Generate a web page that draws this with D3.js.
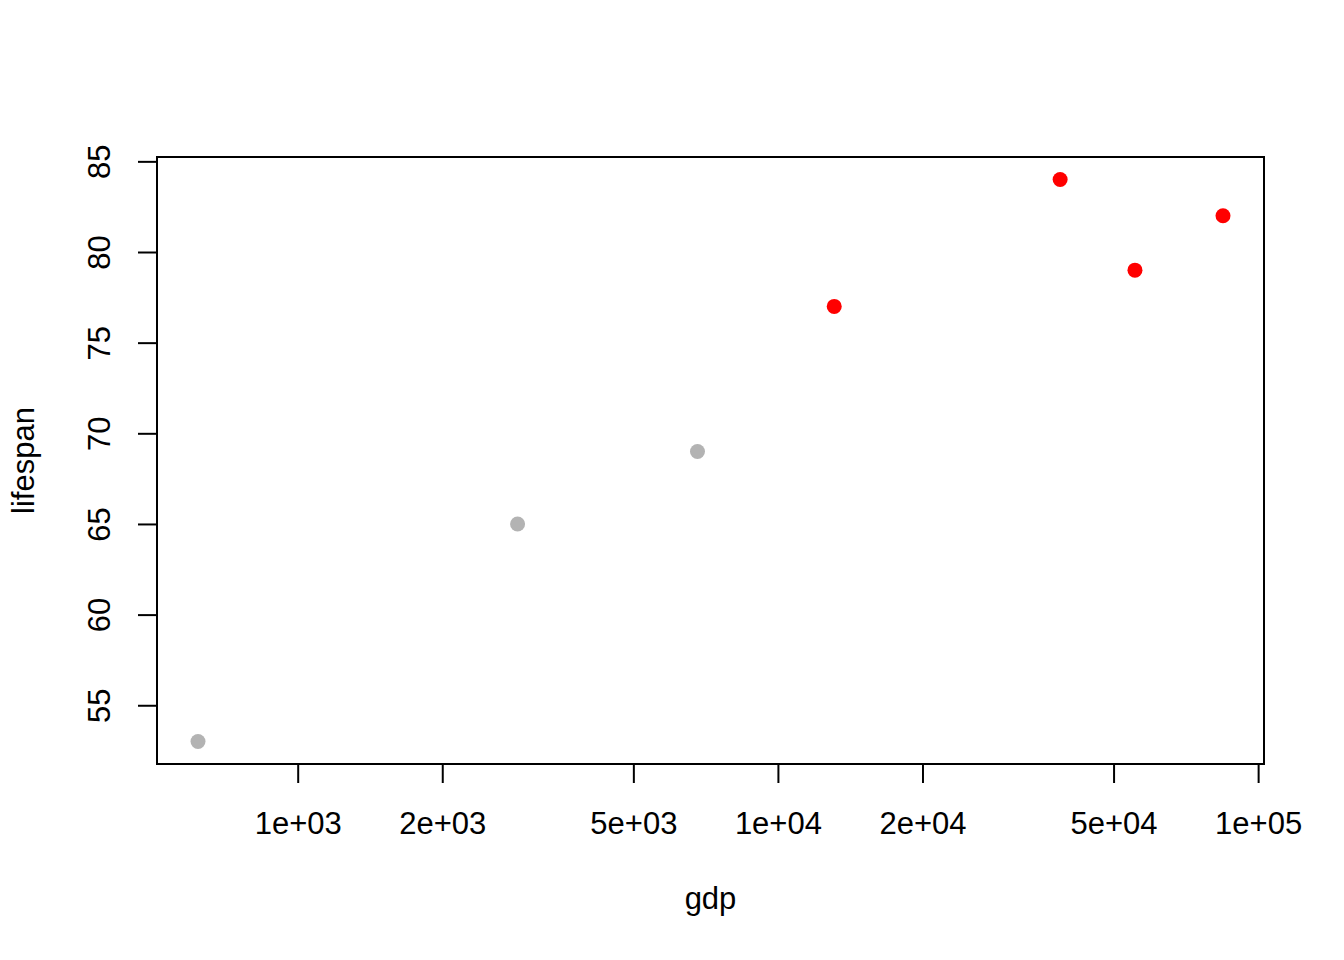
<!DOCTYPE html>
<html>
<head>
<meta charset="utf-8">
<script src="https://d3js.org/d3.v7.min.js"></script>
<style>
  html, body { margin: 0; padding: 0; background: #fff; }
  svg { display: block; font-family: "Liberation Sans", Arial, Helvetica, sans-serif; }
</style>
</head>
<body>
<svg id="chart"></svg>
<script>
// data
const gdp      = [620, 2870, 6800, 13100, 38700, 55400, 84500];
const lifespan = [53, 65, 69, 77, 84, 79, 82];
const group    = ["low", "low", "low", "high", "high", "high", "high"];
const xTicks   = [1e3, 2e3, 5e3, 1e4, 2e4, 5e4, 1e5];
const xTickLabels = ["1e+03", "2e+03", "5e+03", "1e+04", "2e+04", "5e+04", "1e+05"];
const yTicks   = [55, 60, 65, 70, 75, 80, 85];

const width = 1344, height = 960;
const plot = { left: 157, right: 1264, top: 157, bottom: 764 };
const tickLen = 19;
const fontSize = 31;

const svg = d3.select("#chart")
    .attr("width", width)
    .attr("height", height);

// R style 4% range extension on both axes
const lx = d3.extent(gdp, d => Math.log10(d));
const padX = (lx[1] - lx[0]) * 0.04;
const x = d3.scaleLog()
    .domain([Math.pow(10, lx[0] - padX), Math.pow(10, lx[1] + padX)])
    .range([plot.left, plot.right]);

const ly = d3.extent(lifespan);
const padY = (ly[1] - ly[0]) * 0.04;
const y = d3.scaleLinear()
    .domain([ly[0] - padY, ly[1] + padY])
    .range([plot.bottom, plot.top]);

// points
svg.append("g")
    .selectAll("circle")
    .data(gdp.map((g, i) => ({ gdp: g, life: lifespan[i], group: group[i] })))
    .join("circle")
    .attr("cx", d => x(d.gdp))
    .attr("cy", d => y(d.life))
    .attr("r", 7.5)
    .attr("fill", d => d.group === "high" ? "#ff0000" : "#b3b3b3");

// box
svg.append("rect")
    .attr("x", plot.left)
    .attr("y", plot.top)
    .attr("width", plot.right - plot.left)
    .attr("height", plot.bottom - plot.top)
    .attr("fill", "none")
    .attr("stroke", "#000")
    .attr("stroke-width", 2);

// x axis
const xAxis = d3.axisBottom(x)
    .tickValues(xTicks)
    .tickFormat((d, i) => xTickLabels[i])
    .tickSizeInner(tickLen)
    .tickSizeOuter(0);

const gx = svg.append("g")
    .attr("transform", `translate(0,${plot.bottom})`)
    .call(xAxis);
gx.select(".domain")
    .attr("d", `M${x(xTicks[0])},0H${x(xTicks[xTicks.length - 1])}`)
    .attr("stroke-width", 2);
gx.selectAll(".tick line").attr("stroke-width", 2);
gx.selectAll(".tick text")
    .attr("font-size", fontSize)
    .attr("font-family", null)
    .attr("dy", null)
    .attr("y", 70)
    .attr("fill", "#000");

// y axis
const yAxis = d3.axisLeft(y)
    .tickValues(yTicks)
    .tickSizeInner(tickLen)
    .tickSizeOuter(0);

const gy = svg.append("g")
    .attr("transform", `translate(${plot.left},0)`)
    .call(yAxis);
gy.select(".domain")
    .attr("d", `M0,${y(yTicks[0])}V${y(yTicks[yTicks.length - 1])}`)
    .attr("stroke-width", 2);
gy.selectAll(".tick line").attr("stroke-width", 2);
gy.selectAll(".tick text")
    .attr("font-size", fontSize)
    .attr("font-family", null)
    .attr("x", null)
    .attr("dy", null)
    .attr("text-anchor", "middle")
    .attr("transform", "translate(-47,0) rotate(-90)")
    .attr("fill", "#000");

// axis titles
svg.append("text")
    .attr("x", (plot.left + plot.right) / 2)
    .attr("y", 909)
    .attr("text-anchor", "middle")
    .attr("font-size", fontSize)
    .text("gdp");

svg.append("text")
    .attr("transform", `translate(34,${(plot.top + plot.bottom) / 2}) rotate(-90)`)
    .attr("text-anchor", "middle")
    .attr("font-size", fontSize)
    .text("lifespan");
</script>
</body>
</html>
